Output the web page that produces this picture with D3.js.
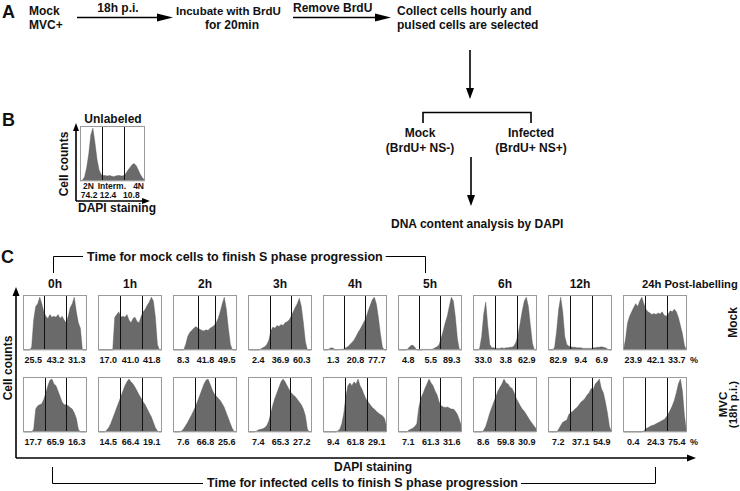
<!DOCTYPE html>
<html><head><meta charset="utf-8">
<script src="https://cdn.jsdelivr.net/npm/d3@7"></script>
<style>
body{margin:0;background:#fff}
svg{display:block}
text{font-family:"Liberation Sans",Arial,Helvetica,sans-serif;font-weight:bold;fill:#111}
</style>
</head><body>
<svg id="chart" width="740" height="491"></svg>
<script>
// ---------------- DATA ----------------
const timepoints = ["0h","1h","2h","3h","4h","5h","6h","12h","24h"];
const rowNames = ["Mock","MVC"];

// relative cell counts per DAPI bin (32 bins), mock row
const mockHist = [
  [0,0,0,0,0.05,0.55,0.8,0.85,0.97,0.85,0.7,0.62,0.58,0.65,0.6,0.62,0.6,0.65,0.58,0.62,0.55,0.5,0.62,0.78,0.85,0.97,0.7,0.5,0.4,0,0,0],
  [0,0,0,0,0,0,0,0,0.6,0.65,0.7,0.6,0.62,0.6,0.65,0.55,0.5,0.58,0.6,0.52,0.5,0.62,0.7,0.75,0.82,0.88,0.97,0.9,0.6,0.1,0,0],
  [0,0,0,0,0,0,0.1,0.25,0.32,0.36,0.4,0.43,0.4,0.38,0.36,0.35,0.37,0.36,0.4,0.42,0.45,0.5,0.58,0.7,0.85,0.97,0.75,0.4,0.1,0,0,0],
  [0,0,0,0,0,0,0.02,0.04,0.06,0.1,0.18,0.35,0.42,0.4,0.45,0.43,0.47,0.45,0.5,0.52,0.55,0.62,0.7,0.78,0.85,0.95,0.8,0.5,0.15,0,0,0],
  [0,0,0,0.03,0.04,0.03,0,0.01,0.01,0.01,0.02,0.04,0.06,0.1,0.14,0.18,0.25,0.32,0.38,0.45,0.52,0.6,0.72,0.82,0.92,0.97,0.85,0.6,0.3,0.05,0,0],
  [0,0,0,0,0,0.04,0.08,0.09,0.05,0,0,0,0.01,0.01,0.01,0.01,0.01,0.02,0.04,0.06,0.1,0.22,0.35,0.5,0.62,0.8,0.97,0.9,0.6,0.2,0,0],
  [0,0,0,0.03,0.25,0.65,0.88,0.45,0.1,0.04,0.04,0.03,0.03,0.03,0.04,0.03,0.04,0.04,0.05,0.05,0.08,0.15,0.3,0.5,0.72,0.9,0.97,0.8,0.45,0.12,0,0],
  [0,0,0,0.05,0.35,0.75,0.97,0.7,0.25,0.1,0.07,0.06,0.05,0.05,0.04,0.04,0.04,0.03,0.03,0.03,0.03,0.03,0.04,0.04,0.05,0.05,0.06,0.05,0.04,0.02,0,0],
  [0,0.2,0.5,0.62,0.7,0.78,0.85,0.8,0.9,0.97,0.85,0.75,0.7,0.68,0.65,0.67,0.65,0.68,0.66,0.7,0.64,0.62,0.66,0.72,0.7,0.75,0.7,0.6,0.45,0.3,0.08,0]
];
// MVC (18h p.i.) row
const mvcHist = [
  [0,0,0,0,0,0.05,0.42,0.48,0.5,0.52,0.6,0.72,0.85,0.95,0.97,0.88,0.85,0.75,0.65,0.55,0.5,0.5,0.48,0.45,0.42,0.35,0.25,0.05,0,0,0,0],
  [0,0,0,0,0.03,0.08,0.15,0.25,0.35,0.45,0.55,0.65,0.75,0.85,0.92,0.97,0.92,0.88,0.82,0.75,0.68,0.62,0.55,0.5,0.42,0.35,0.28,0.18,0.08,0.02,0,0],
  [0,0,0,0,0.02,0.06,0.12,0.18,0.25,0.32,0.4,0.48,0.58,0.68,0.78,0.88,0.95,0.97,0.88,0.78,0.7,0.66,0.62,0.58,0.52,0.45,0.35,0.25,0.15,0.06,0,0],
  [0,0,0,0,0.02,0.04,0.05,0.06,0.08,0.12,0.2,0.35,0.5,0.62,0.72,0.82,0.92,0.97,0.92,0.85,0.78,0.72,0.68,0.65,0.6,0.55,0.5,0.42,0.3,0.05,0,0],
  [0,0,0,0,0,0,0,0.02,0.05,0.15,0.35,0.65,0.85,0.9,0.85,0.92,0.88,0.97,0.85,0.78,0.68,0.6,0.55,0.5,0.45,0.42,0.38,0.35,0.32,0.3,0.25,0.1],
  [0,0,0,0,0,0.03,0.05,0.07,0.1,0.15,0.45,0.62,0.7,0.8,0.88,0.97,0.9,0.85,0.75,0.68,0.55,0.48,0.46,0.45,0.46,0.44,0.42,0.42,0.38,0.32,0.22,0.1],
  [0,0,0,0,0,0.03,0.1,0.22,0.35,0.45,0.55,0.65,0.75,0.82,0.88,0.97,0.9,0.88,0.82,0.8,0.72,0.62,0.55,0.48,0.42,0.38,0.32,0.26,0.2,0.15,0.1,0.05],
  [0,0,0,0,0,0.05,0.12,0.18,0.2,0.22,0.32,0.36,0.38,0.42,0.45,0.5,0.55,0.58,0.62,0.68,0.72,0.8,0.78,0.88,0.92,0.97,0.8,0.72,0.55,0.35,0.1,0],
  [0,0,0,0,0,0,0,0,0,0,0.02,0.06,0.08,0.1,0.12,0.13,0.15,0.17,0.19,0.21,0.23,0.27,0.33,0.4,0.48,0.58,0.72,0.88,0.97,0.75,0.3,0]
];
// percentages 2N / intermediate / 4N
const mockPct = [[25.5,43.2,31.3],[17.0,41.0,41.8],[8.3,41.8,49.5],[2.4,36.9,60.3],[1.3,20.8,77.7],[4.8,5.5,89.3],[33.0,3.8,62.9],[82.9,9.4,6.9],[23.9,42.1,33.7]];
const mvcPct  = [[17.7,65.9,16.3],[14.5,66.4,19.1],[7.6,66.8,25.6],[7.4,65.3,27.2],[9.4,61.8,29.1],[7.1,61.3,31.6],[8.6,59.8,30.9],[7.2,37.1,54.9],[0.4,24.3,75.4]];
// gate thresholds (fraction of DAPI range)
const mockGates = [[0.33,0.67],[0.35,0.69],[0.39,0.66],[0.34,0.67],[0.33,0.66],[0.33,0.66],[0.34,0.68],[0.35,0.68],[0.35,0.68]];
const mvcGates  = [[0.35,0.67],[0.34,0.69],[0.34,0.66],[0.34,0.66],[0.35,0.68],[0.34,0.66],[0.34,0.66],[0.35,0.68],[0.35,0.68]];
// panel B
const unlabeledHist = [0,0.02,0.08,0.25,0.5,0.85,0.97,0.7,0.4,0.2,0.12,0.1,0.1,0.09,0.1,0.09,0.08,0.09,0.1,0.1,0.09,0.1,0.14,0.2,0.25,0.3,0.32,0.28,0.2,0.12,0.06,0.02];
const unlabeledGates = [0.34,0.68];
const unlabeledPct = [74.2,12.4,10.8];
const phaseLabels = ["2N","Interm.","4N"];

// ---------------- DRAWING ----------------
const svg = d3.select("#chart");
const fmt = d3.format(".1f");
const FILL = "#6a6a6a", BORDER = "#9a9a9a";

function arrow(g, x1, y1, x2, y2, len, half) {
  len = len || 9; half = half || 3.5;
  const dx = x2 - x1, dy = y2 - y1, L = Math.hypot(dx, dy);
  const ux = dx / L, uy = dy / L;
  const bx = x2 - ux * len, by = y2 - uy * len;
  g.append("line").attr("x1", x1).attr("y1", y1).attr("x2", bx).attr("y2", by)
    .attr("stroke", "#000").attr("stroke-width", 1.6);
  g.append("path").attr("d", `M${x2},${y2}L${bx - uy * half},${by + ux * half}L${bx + uy * half},${by - ux * half}Z`)
    .attr("fill", "#000");
}
function txt(g, x, y, s, size, anchor) {
  return g.append("text").attr("x", x).attr("y", y).attr("font-size", size)
    .attr("text-anchor", anchor || "start").text(s);
}

function drawHist(g, data, gates, x0, y0, w, h) {
  const x = d3.scaleLinear().domain([0, data.length - 1]).range([x0 + 0.5, x0 + w - 0.5]);
  const gx = d3.scaleLinear().domain([0, 1]).range([x0, x0 + w]);
  const y = d3.scaleLinear().domain([0, 1]).range([y0 + h, y0 + 0.5]);
  g.append("rect").attr("x", x0).attr("y", y0).attr("width", w).attr("height", h).attr("fill", "#fff");
  g.append("path").datum(data)
    .attr("d", d3.area().x((d, i) => x(i)).y0(y(0)).y1(d => y(d)))
    .attr("fill", FILL).attr("stroke", "#555").attr("stroke-width", 0.4);
  g.selectAll(null).data(gates).enter().append("line")
    .attr("x1", d => Math.round(gx(d)) + 0.5).attr("x2", d => Math.round(gx(d)) + 0.5)
    .attr("y1", y0).attr("y2", y0 + h).attr("stroke", "#111").attr("stroke-width", 1);
  g.append("rect").attr("x", x0 + 0.5).attr("y", y0 + 0.5).attr("width", w - 1).attr("height", h - 1)
    .attr("fill", "none").attr("stroke", BORDER).attr("stroke-width", 1);
  return gx;
}

// ----- Panel A -----
const A = svg.append("g");
txt(A, 2, 18, "A", 18);
txt(A, 29, 15, "Mock", 12);
txt(A, 29, 29, "MVC+", 12);
arrow(A, 77, 17.5, 173, 17.5, 16, 4);
txt(A, 118, 12, "18h p.i.", 12, "middle");
txt(A, 176, 15, "Incubate with BrdU", 11.5);
txt(A, 232, 29, "for 20min", 12, "middle");
txt(A, 293, 12, "Remove BrdU", 12);
arrow(A, 293, 17.5, 391, 17.5, 16, 4);
txt(A, 397, 15, "Collect cells hourly and", 12);
txt(A, 397, 29, "pulsed cells are selected", 12);
arrow(A, 470, 50, 470, 99, 11, 4);
A.append("path").attr("d", "M423,123V112.5H531V123").attr("fill", "none").attr("stroke", "#000").attr("stroke-width", 1.6);
txt(A, 420, 137, "Mock", 12, "middle");
txt(A, 420, 152, "(BrdU+ NS-)", 12, "middle");
txt(A, 531, 137, "Infected", 12, "middle");
txt(A, 531, 152, "(BrdU+ NS+)", 12, "middle");
arrow(A, 471, 157, 471, 206, 11, 4);
txt(A, 391, 228, "DNA content analysis by DAPI", 12);

// ----- Panel B -----
const B = svg.append("g");
txt(B, 2, 126, "B", 18);
txt(B, 113, 123, "Unlabeled", 12, "middle");
const bx0 = 80, by0 = 126, bw = 65, bh = 55;
const bgx = drawHist(B, unlabeledHist, unlabeledGates, bx0, by0, bw, bh);
txt(B, 83, 189, phaseLabels[0], 8.5, "start");
txt(B, bgx(0.49), 189, phaseLabels[1], 8.5, "middle");
txt(B, 144, 189, phaseLabels[2], 8.5, "end");
unlabeledPct.forEach((v, i) => txt(B, bgx([0.14, 0.43, 0.79][i]), 198, fmt(v), 8.5, "middle"));
arrow(B, 76, 201, 76, 123, 8, 3);
arrow(B, 76, 201, 150, 201, 8, 3);
B.append("text").attr("transform", "translate(68,164) rotate(-90)").attr("text-anchor", "middle")
  .attr("font-size", 12).text("Cell counts");
txt(B, 78, 212, "DAPI staining", 12);

// ----- Panel C -----
const C = svg.append("g");
txt(C, 1, 263, "C", 18);
const col = d3.scaleBand().domain(timepoints).range([23, 687]).paddingInner(0.147);
const row = d3.scaleBand().domain(rowNames).range([295, 432]).paddingInner(0.329);
const W = col.bandwidth(), H = row.bandwidth();
const pctPos = [0.16, 0.51, 0.84];

timepoints.forEach((t, i) => {
  const cx = col(t) + W / 2;
  if (t === "24h") {
    txt(C, 642, 288, t + " Post-labelling", 11.2);
  } else {
    txt(C, cx, 288, t, 12, "middle");
  }
  [[mockHist, mockGates, mockPct, "Mock"], [mvcHist, mvcGates, mvcPct, "MVC"]].forEach(([hist, gates, pct, r]) => {
    const gx = drawHist(C, hist[i], gates[i], col(t), row(r), W, H);
    const ty = row(r) + H + 13;
    pct[i].forEach((v, k) => txt(C, gx(pctPos[k]), ty, fmt(v), 9, "middle"));
    if (t === "24h") txt(C, col(t) + W + 3, ty, "%", 9);
  });
});

// row labels
C.append("text").attr("transform", `translate(737,${row("Mock") + H / 2}) rotate(-90)`)
  .attr("text-anchor", "middle").attr("font-size", 12).text("Mock");
const mv = C.append("text").attr("transform", `translate(727,${row("MVC") + H / 2}) rotate(-90)`)
  .attr("text-anchor", "middle").attr("font-size", 11.5);
mv.append("tspan").attr("x", 0).attr("dy", 0).text("MVC");
mv.append("tspan").attr("x", 0).attr("dy", 10).text("(18h p.i.)");

// axes frame
arrow(C, 16, 458, 16, 287, 9, 3.5);
arrow(C, 16, 458, 696, 458, 9, 3.5);
C.append("text").attr("transform", "translate(12,368) rotate(-90)").attr("text-anchor", "middle")
  .attr("font-size", 12).text("Cell counts");
txt(C, 373, 471, "DAPI staining", 12, "middle");

// brackets
function bracket(g, xL, xR, yLine, yEnd, label, tx, ty) {
  const t = txt(g, tx, ty, label, 12.5);
  const tw = t.node().getComputedTextLength();
  g.append("path").attr("d", `M${xL},${yEnd}V${yLine}H${tx - 4}M${tx + tw + 3},${yLine}H${xR}V${yEnd}`)
    .attr("fill", "none").attr("stroke", "#000").attr("stroke-width", 1);
}
bracket(C, 53.5, 425.5, 256.5, 273, "Time for mock cells to finish S phase progression", 87, 261);
bracket(C, 52.5, 655.5, 483.5, 467, "Time for infected cells to finish S phase progression", 207, 487);
</script>
</body></html>
